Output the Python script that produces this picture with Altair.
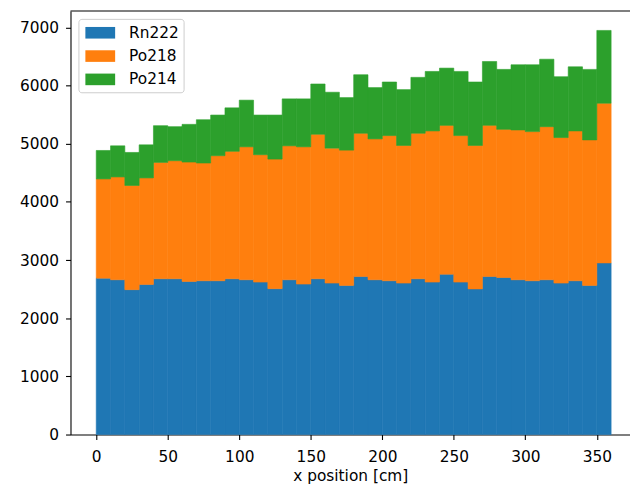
import altair as alt
import pandas as pd

bin_start = list(range(0, 360, 10))
bin_width = 10

rn222 = [2689, 2661, 2491, 2581, 2678, 2678, 2632, 2644, 2644, 2678, 2661, 2621,
         2508, 2661, 2587, 2678, 2604, 2564, 2718, 2661, 2644, 2604, 2678, 2621,
         2757, 2621, 2504, 2718, 2700, 2661, 2644, 2661, 2604, 2644, 2564, 2951]
po218 = [1706, 1768, 1791, 1831, 2001, 2030, 2053, 2024, 2150, 2192, 2286, 2190,
         2228, 2303, 2360, 2485, 2320, 2326, 2462, 2422, 2496, 2366, 2502, 2599,
         2559, 2519, 2466, 2598, 2548, 2576, 2564, 2632, 2502, 2576, 2502, 2746]
po214 = [489, 535, 568, 569, 631, 585, 648, 745, 699, 747, 802, 682,
         757, 807, 824, 864, 961, 903, 1006, 882, 921, 960, 961, 1023,
         984, 1103, 1091, 1098, 1030, 1120, 1149, 1160, 1046, 1102, 1212, 1251]

series_names = ["Rn222", "Po218", "Po214"]
series_colors = ["#1f77b4", "#ff7f0e", "#2ca02c"]
x_ticks = [0, 50, 100, 150, 200, 250, 300, 350]
y_ticks = [0, 1000, 2000, 3000, 4000, 5000, 6000, 7000]

rows = []
for k, (name, vals) in enumerate(zip(series_names, [rn222, po218, po214])):
    for s, v in zip(bin_start, vals):
        rows.append({"start": s, "end": s + bin_width, "count": v,
                     "series": name, "k": k})
df = pd.DataFrame(rows)

W, H = 564, 427
X_LO, X_HI, Y_HI = -18, 373.2, 7283
xscale = alt.Scale(domain=[X_LO, X_HI], nice=False, zero=False)
yscale = alt.Scale(domain=[0, Y_HI], nice=False)
cscale = alt.Scale(domain=series_names, range=series_colors)

bars = alt.Chart(df).transform_stack(
    stack="count", groupby=["start"], as_=["y0", "y1"],
    sort=[alt.SortField("k", order="ascending")],
).mark_bar(strokeWidth=0.6).encode(
    x=alt.X("start:Q", scale=xscale,
            axis=alt.Axis(values=x_ticks, title="x position [cm]", orient="bottom",
                          labelPadding=10, titlePadding=4)),
    x2="end:Q",
    y=alt.Y("y0:Q", scale=yscale,
            axis=alt.Axis(values=y_ticks, title=None, format="d", labelPadding=7)),
    y2="y1:Q",
    color=alt.Color("series:N", scale=cscale,
                    legend=alt.Legend(title=None, orient="none", legendX=8, legendY=8)),
    stroke=alt.Stroke("series:N", scale=cscale, legend=None),
)

# top spine of the plot frame (frame decoration, not data)
top = alt.Chart(pd.DataFrame({"spine": ["top"]})).mark_rule(
    color="black", strokeWidth=1.1
).encode(
    x=alt.value(0),
    x2=alt.value(W),
    y=alt.value(0),
)

chart = alt.layer(bars, top).properties(
    width=W, height=H,
    autosize=alt.AutoSizeParams(type="none"),
    padding={"left": 63, "top": 1, "right": 0, "bottom": 60},
).configure_view(stroke=None).configure_axis(
    grid=False,
    domainColor="black", domainWidth=1.1,
    tickColor="black", tickWidth=1.1, tickSize=5,
    labelColor="black", labelFont="DejaVu Sans", labelFontSize=15.5,
    titleColor="black", titleFont="DejaVu Sans", titleFontSize=15.5,
    titleFontWeight="normal",
).configure_legend(
    strokeColor="#cccccc", fillColor="rgba(255,255,255,0.8)", cornerRadius=3,
    padding=4, rowPadding=4.5,
    symbolType="M-0.7,-0.585H2.3V0.585H-0.7Z", symbolSize=400,
    symbolStrokeWidth=0, labelOffset=27,
    labelFont="DejaVu Sans", labelFontSize=15.5, labelColor="black",
)

chart.save("out.html", embed_options={"renderer": "svg", "actions": False})
